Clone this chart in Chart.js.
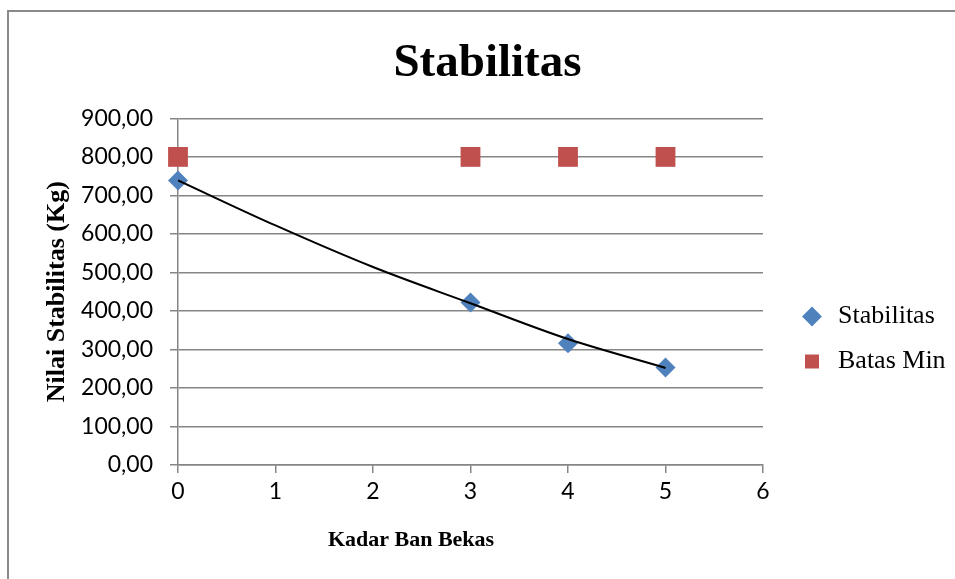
<!DOCTYPE html>
<html>
<head>
<meta charset="utf-8">
<script src="https://cdn.jsdelivr.net/npm/chart.js@4"></script>
<style>
  html, body { margin: 0; padding: 0; overflow: hidden; background: #fff; }
  #wrap { position: relative; width: 955px; height: 579px; }
  #frame { position: absolute; left: 7px; top: 10px; width: 1000px; height: 700px;
           border-left: 2px solid #8a8a8a; border-top: 2px solid #8a8a8a; pointer-events: none; }
</style>
</head>
<body>
<div id="wrap">
  <canvas id="grafico" width="955" height="579"></canvas>
  <div id="frame"></div>
</div>
<script>
// datos
const kadar = [0, 3, 4, 5]
const stabilitas = [739, 422, 316, 253]
const batasMin = [800, 800, 800, 800]
const trendX = [0, 1, 2, 3, 4, 5]
const trendY = [739, 622, 514, 420, 327, 252]

const gris = '#868686'
const serif = "'Liberation Serif', 'Times New Roman', serif"
const sans = "Lato, 'Open Sans', sans-serif"

// leyenda a la derecha con ancho fijo, movida como en Excel
const leyenda = {
   id: 'leyenda',
   afterInit(chart) {
      const fit = chart.legend.fit
      chart.legend.fit = function () { fit.call(this); this.width = 192 }
   },
   afterLayout(chart) {
      const l = chart.legend
      l.left += 17; l.right += 17
      l.top += 52; l.bottom += 52
   }
}

// titulo del eje x (en el original no esta centrado)
const tituloX = {
   id: 'tituloX',
   afterDraw(chart) {
      const c = chart.ctx
      c.save()
      c.font = 'bold 22px ' + serif
      c.fillStyle = '#000'
      c.textAlign = 'center'
      c.textBaseline = 'middle'
      c.fillText('Kadar Ban Bekas', chart.scales.x.getPixelForValue(2.39), 540)
      c.restore()
   }
}

const ctx = document.getElementById('grafico').getContext('2d')
const myChart = new Chart(ctx, {
   type: 'scatter',
   data: {
      datasets: [
         {
            label: 'Stabilitas',
            data: kadar.map((x, i) => ({ x: x, y: stabilitas[i] })),
            pointStyle: 'rectRot',
            pointRadius: 10,
            backgroundColor: '#4F81BD',
            borderColor: '#4F81BD',
            borderWidth: 0,
            clip: false,
            order: 2
         },
         {
            label: 'Batas Min',
            data: kadar.map((x, i) => ({ x: x, y: batasMin[i] })),
            pointStyle: 'rect',
            pointRadius: 14,
            backgroundColor: '#C0504D',
            borderColor: '#C0504D',
            borderWidth: 0,
            clip: false,
            order: 3
         },
         {
            label: 'trend',
            data: trendX.map((x, i) => ({ x: x, y: trendY[i] })),
            showLine: true,
            borderColor: '#000',
            borderWidth: 2,
            pointRadius: 0,
            cubicInterpolationMode: 'monotone',
            order: 1
         }
      ]
   },
   options: {
      responsive: false,
      animation: false,
      layout: { padding: { top: 10, left: 20, right: 0, bottom: 15 } },
      plugins: {
         title: {
            display: true,
            text: 'Stabilitas',
            color: '#000',
            font: { family: serif, size: 47, weight: 'bold' },
            padding: { top: 26, bottom: 26 }
         },
         legend: {
            position: 'right',
            labels: {
               usePointStyle: true,
               boxHeight: 14,
               color: '#000',
               font: { family: serif, size: 26 },
               padding: 19,
               filter: item => item.text !== 'trend'
            }
         },
         tooltip: { enabled: false }
      },
      scales: {
         x: {
            type: 'linear',
            min: 0,
            max: 6,
            ticks: { stepSize: 1, color: '#000', font: { family: sans, size: 23 }, padding: 5 },
            grid: { drawOnChartArea: false, drawTicks: true, tickLength: 8, color: gris, lineWidth: 1.5 },
            border: { color: gris, width: 1.5 },
            afterFit: s => { s.height = 99 }
         },
         y: {
            min: 0,
            max: 900,
            ticks: {
               stepSize: 100,
               color: '#000',
               font: { family: sans, size: 23 },
               padding: 17,
               callback: v => v.toFixed(2).replace('.', ',')
            },
            grid: { color: gris, lineWidth: 1.5, tickLength: 8 },
            border: { color: gris, width: 1.5 },
            title: {
               display: true,
               text: 'Nilai Stabilitas (Kg)',
               color: '#000',
               font: { family: serif, size: 26, weight: 'bold' },
               padding: { top: 22, bottom: 0 }
            },
            afterFit: s => { s.width = 158 }
         }
      }
   },
   plugins: [leyenda, tituloX]
})
</script>
</body>
</html>
